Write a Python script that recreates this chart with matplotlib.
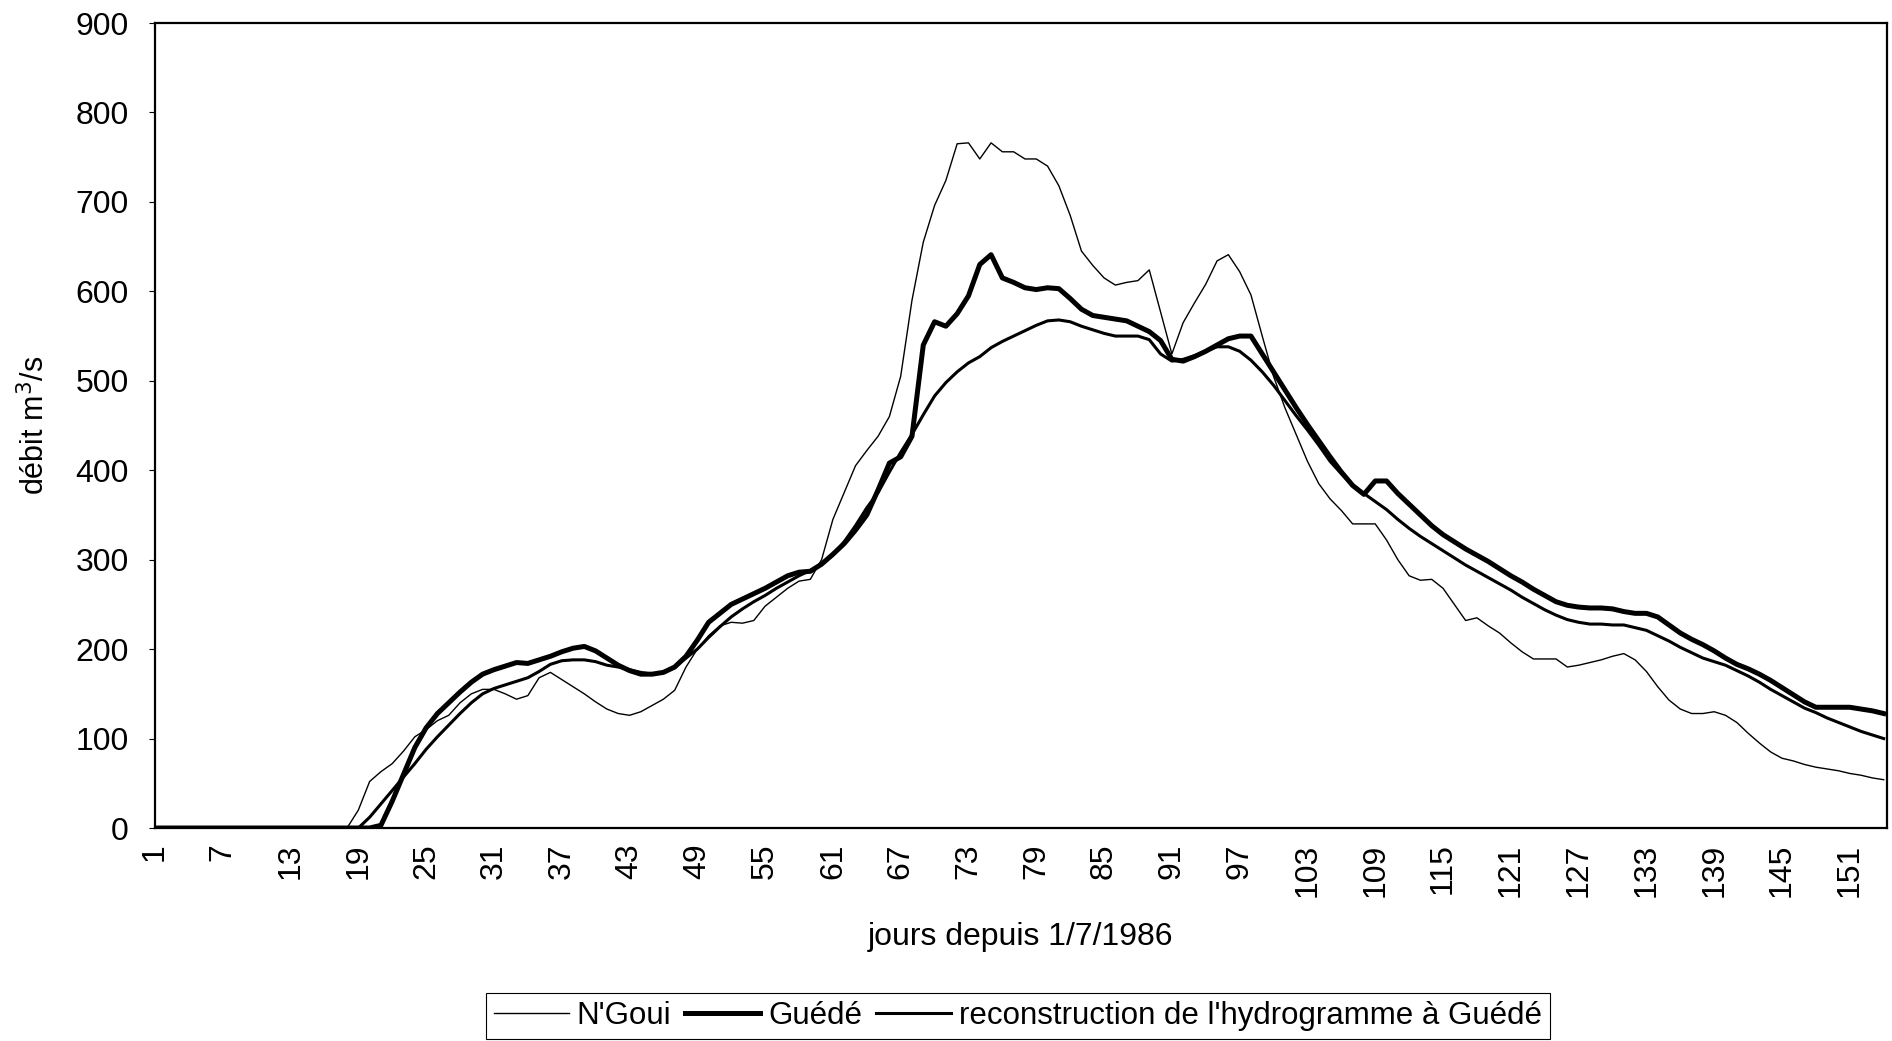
import numpy as np
import matplotlib.pyplot as plt

plt.rcParams['font.family'] = ['Liberation Sans', 'DejaVu Sans']

# débits journaliers (m3/s) à partir du 1/7/1986
ngoui = [0, 0, 0, 0, 0, 0, 0, 0, 0, 0, 0, 0, 0, 0, 0, 0, 0, 0,
         20, 52, 63, 72, 86, 102, 110, 120, 126, 140, 150, 155, 155, 150,
         144, 148, 168, 174, 166, 158, 150, 141, 133, 128, 126, 130, 137, 144,
         154, 180, 200, 215, 226, 230, 229, 232, 248, 258, 268, 276, 278, 300,
         345, 375, 405, 422, 438, 460, 505, 590, 655, 696, 724, 765, 766, 748,
         766, 756, 756, 748, 748, 740, 718, 685, 645, 629, 615, 607, 610, 612,
         624, 577, 530, 565, 587, 608, 634, 641, 622, 596, 550, 505, 470, 440,
         410, 385, 368, 355, 340, 340, 340, 322, 300, 282, 277, 278, 268, 250,
         232, 235, 226, 218, 207, 197, 189, 189, 189, 180, 182, 185, 188, 192,
         195, 188, 175, 158, 143, 133, 128, 128, 130, 126, 118, 106, 95, 85,
         78, 75, 71, 68, 66, 64, 61, 59, 56, 54]

guede = [0, 0, 0, 0, 0, 0, 0, 0, 0, 0, 0, 0, 0, 0, 0, 0, 0, 0, 0, 0,
         3, 30, 60, 90, 112, 128, 140, 152, 163, 172, 177, 181, 185, 184,
         188, 192, 197, 201, 203, 198, 190, 182, 176, 172, 172, 174, 180, 192,
         210, 230, 240, 250, 256, 262, 268, 275, 282, 286, 287, 295, 306, 318,
         333, 350, 378, 408, 415, 438, 540, 566, 561, 575, 595, 630, 641, 615,
         610, 604, 602, 604, 603, 592, 580, 573, 571, 569, 567, 561, 555, 545,
         524, 522, 527, 533, 540, 547, 550, 550, 530, 510, 490, 470, 451, 433,
         415, 398, 383, 373, 388, 388, 374, 362, 350, 338, 328, 320, 312, 305,
         298, 290, 282, 275, 267, 260, 253, 249, 247, 246, 246, 245, 242, 240,
         240, 236, 227, 218, 211, 205, 198, 190, 183, 178, 172, 165, 157, 149,
         141, 135, 135, 135, 135, 133, 131, 128]

reconst = [0, 0, 0, 0, 0, 0, 0, 0, 0, 0, 0, 0, 0, 0, 0, 0, 0, 0, 0,
           12, 27, 42, 57, 72, 88, 102, 115, 128, 140, 150, 156, 160, 164,
           168, 175, 183, 187, 188, 188, 186, 182, 180, 177, 174, 172, 174, 180,
           190, 200, 213, 225, 236, 245, 253, 260, 268, 275, 282, 288, 295, 305,
           320, 338, 358, 375, 398, 420, 440, 462, 483, 498, 510, 520, 527, 537,
           544, 550, 556, 562, 567, 568, 566, 561, 557, 553, 550, 550, 550, 546,
           530, 522, 524, 528, 533, 538, 538, 533, 523, 510, 495, 478, 461, 445,
           428, 410, 396, 383, 374, 365, 356, 345, 335, 326, 318, 310, 302, 294,
           287, 280, 273, 266, 258, 251, 244, 238, 233, 230, 228, 228, 227, 227,
           224, 221, 215, 209, 202, 196, 190, 186, 182, 176, 170, 163, 155, 148,
           141, 134, 129, 123, 118, 113, 108, 104, 100]

fig = plt.figure(figsize=(18.92, 10.41), dpi=100)
ax = fig.add_axes([0.0819, 0.2046, 0.9155, 0.7733])

ax.plot(np.arange(1, len(ngoui) + 1), ngoui, color='black', linewidth=1.0,
        label="N'Goui")
ax.plot(np.arange(1, len(guede) + 1), guede, color='black', linewidth=3.6,
        label='Guédé')
ax.plot(np.arange(1, len(reconst) + 1), reconst, color='black', linewidth=2.2,
        label="reconstruction de l'hydrogramme à Guédé")

ax.set_xlim(1, 154.3)
ax.set_ylim(0, 900)
ax.set_yticks(np.arange(0, 901, 100))
ax.set_xticks(np.arange(1, 155, 6))
ax.tick_params(axis='y', labelsize=23, length=4, width=0.8, pad=15)
ax.tick_params(axis='x', labelsize=23, length=0, pad=11, labelrotation=90)

for s in ax.spines.values():
    s.set_linewidth(1.6)
    s.set_color('black')

ax.set_ylabel('débit m$^3$/s', fontsize=22)
ax.yaxis.set_label_coords(-0.06, 0.5)
ax.set_xlabel('jours depuis 1/7/1986', fontsize=23, labelpad=18)

leg = fig.legend(loc='center', bbox_to_anchor=(0.538, 0.024), ncol=3,
                 fontsize=22.5, handlelength=2.4, handletextpad=0.25,
                 columnspacing=0.45, borderpad=0.25, fancybox=False,
                 edgecolor='black', framealpha=1)
leg.get_frame().set_linewidth(0.8)

fig.savefig('out.png', dpi=100)
